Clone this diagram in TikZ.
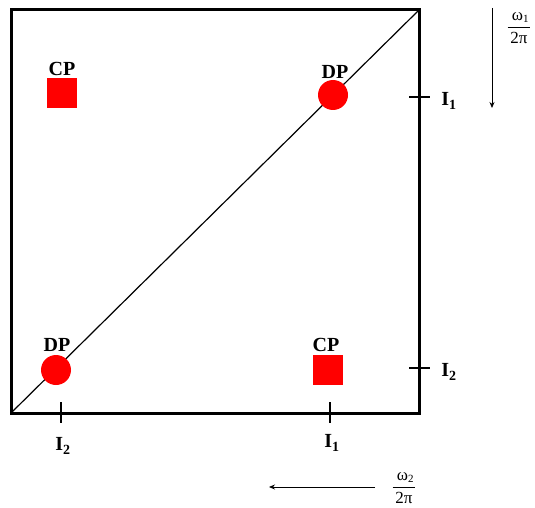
\documentclass[tikz,border=0pt]{standalone}
\usepackage{fontspec}
\setmainfont{Liberation Serif}
\usetikzlibrary{arrows.meta}
\newcommand{\myfrac}[1]{$\displaystyle\frac{\mbox{\,ω}_{\mbox{\fontsize{11}{11}\selectfont #1}}}{\mbox{\,2π\,}}$}
\begin{document}
\begin{tikzpicture}[x=1pt,y=-1pt,
  frame/.style={line width=3pt},
  tick/.style={line width=2.5pt},
  lbl/.style={font=\fontsize{20}{22}\selectfont\bfseries, inner sep=0pt},
  ilbl/.style={font=\fontsize{20}{22}\selectfont\bfseries, inner sep=0pt},
  cpbox/.style={fill=red, minimum size=30pt, inner sep=0pt, draw=none},
  dpdot/.style={circle, fill=red, minimum size=30pt, inner sep=0pt, draw=none},
  frac/.style={font=\fontsize{17}{19}\selectfont, inner sep=0pt},
  axarrow/.style={line width=0.8pt, -{Stealth[length=6pt,width=5pt]}}]
\useasboundingbox (0,0) rectangle (535,508);
\coordinate (bl) at (11,413);
\coordinate (tr) at (419,10);
\draw[frame] (11,10) rectangle (419,413);
\draw[line width=1.2pt] (bl) -- (tr);
% ticks right
\coordinate (r1a) at (409,97); \coordinate (r1b) at (430,97);
\coordinate (r2a) at (409,368); \coordinate (r2b) at (430,368);
\draw[tick] (r1a) -- (r1b);
\draw[tick] (r2a) -- (r2b);
% ticks bottom
\coordinate (b2a) at (61,402); \coordinate (b2b) at (61,423);
\coordinate (b1a) at (330,402); \coordinate (b1b) at (330,423);
\draw[tick] (b2a) -- (b2b);
\draw[tick] (b1a) -- (b1b);
\node[ilbl] (ri1) at (449,101) {I\textsubscript{1}};
\node[ilbl] (ri2) at (449,372) {I\textsubscript{2}};
\node[ilbl] (bi2) at (63,446) {I\textsubscript{2}};
\node[ilbl] (bi1) at (332,443) {I\textsubscript{1}};
% points
\node[cpbox] (cp1) at (62,93) {};
\node[lbl] (cp1l) at (62,69) {CP};
\node[cpbox] (cp2) at (328,370) {};
\node[lbl] (cp2l) at (326,345) {CP};
\node[dpdot] (dp1) at (333,95) {};
\node[lbl] (dp1l) at (335,72) {DP};
\node[dpdot] (dp2) at (56,370) {};
\node[lbl] (dp2l) at (57,345) {DP};
% axes arrows
\coordinate (va) at (492,8); \coordinate (vb) at (492,108);
\draw[axarrow] (va) -- (vb);
\node[frac] (f1) at (519,28) {\myfrac{1}};
\coordinate (ha) at (375,487); \coordinate (hb) at (269,487);
\draw[axarrow] (ha) -- (hb);
\node[frac] (f2) at (404,488) {\myfrac{2}};
\end{tikzpicture}
\end{document}
